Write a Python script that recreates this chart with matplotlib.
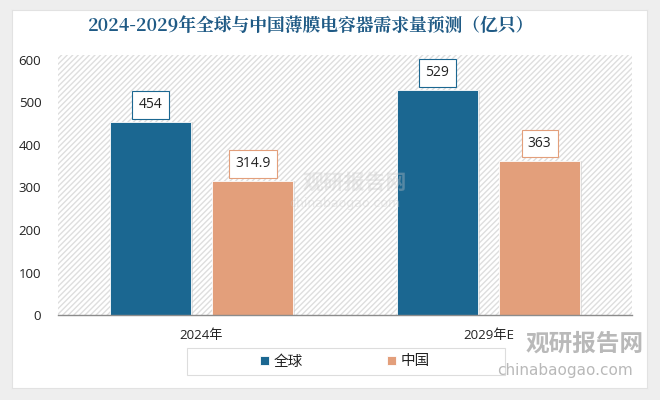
import matplotlib.pyplot as plt
import numpy as np
from matplotlib.patches import Rectangle

plt.rcParams['font.family'] = ['Open Sans', 'Noto Sans CJK SC', 'DejaVu Sans']

title = '2024-2029年全球与中国薄膜电容器需求量预测（亿只）'
categories = ['2024年', '2029年E']
series_names = ['全球', '中国']
global_vals = [454, 529]
china_vals = [314.9, 363]
value_labels = [['454', '529'], ['314.9', '363']]
yticks = [0, 100, 200, 300, 400, 500, 600]

blue = '#1b6791'
orange = '#e39f7b'

fig = plt.figure(figsize=(6.6, 4.0), dpi=100)
fig.patch.set_facecolor('#eeeeee')

# white card behind everything
card_ax = fig.add_axes([0.018, 0.03, 0.962, 0.945], zorder=-5)
card_ax.set_xticks([])
card_ax.set_yticks([])
card_ax.set_facecolor('white')
for s in card_ax.spines.values():
    s.set_color('#e2e2e2')

fig.text(311 / 660, 1 - 27 / 400, title, ha='center', va='center',
         fontsize=12.8, fontweight='bold', color='#1f5a85',
         family=['Noto Serif CJK SC', 'Noto Sans CJK SC', 'DejaVu Sans'])

ax = fig.add_axes([58 / 660, 1 - 315 / 400, 574 / 660, 255 / 400])
ax.set_facecolor('none')

# hatched plot background
bg = Rectangle((0, 0), 1, 1.02, transform=ax.transAxes, facecolor='white',
               edgecolor='#dedede', hatch='//////', linewidth=0, zorder=0,
               clip_on=False)
ax.add_patch(bg)

x = np.arange(len(categories))
w = 0.28
off = 0.178
series = [global_vals, china_vals]
colors = [blue, orange]
for i, (vals, col) in enumerate(zip(series, colors)):
    xs = x + (-off if i == 0 else off)
    # soft shadow
    ax.bar(xs + 0.008, vals, w, color='#cfcfcf', alpha=0.6, zorder=1)
    ax.bar(xs, vals, w, color=col, edgecolor='white', linewidth=0.6,
           zorder=2, label=series_names[i])
    for xi, v, lab in zip(xs, vals, value_labels[i]):
        ax.annotate(lab, (xi, v), xytext=(0, 7), textcoords='offset points',
                    ha='center', va='bottom', fontsize=10, color='#222222',
                    bbox=dict(boxstyle='square,pad=0.45', facecolor='white',
                              edgecolor=col, linewidth=0.8),
                    zorder=4)

ax.set_xlim(-0.5, 1.5)
ax.set_ylim(0, 600)
ax.set_yticks(yticks)
ax.set_yticklabels([str(t) for t in yticks], fontsize=9.5, color='#222222')
ax.set_xticks(x)
ax.set_xticklabels(categories, fontsize=9.5, color='#222222')
ax.tick_params(axis='both', length=0)
ax.tick_params(axis='y', pad=12)
ax.tick_params(axis='x', pad=10)
for s in ['top', 'right', 'left']:
    ax.spines[s].set_visible(False)
ax.spines['bottom'].set_color('#8c8c8c')
ax.spines['bottom'].set_linewidth(1.0)

# legend frame drawn separately (wider than the entries)
fig.patches.append(Rectangle((187 / 660, 1 - 375 / 400), 318 / 660, 27 / 400,
                             transform=fig.transFigure, facecolor='white',
                             edgecolor='#dddddd', linewidth=0.8, zorder=2))
leg = fig.legend(loc='center', bbox_to_anchor=(345 / 660, 1 - 362 / 400),
                 ncol=2, frameon=False, fontsize=10.5, handlelength=0.6,
                 handleheight=0.6, handletextpad=0.3, columnspacing=5.8)
leg.set_zorder(3)
for t in leg.get_texts():
    t.set_color('#222222')

# watermarks
fig.text(585 / 660, 1 - 344 / 400, '观研报告网', ha='center', va='center',
         fontsize=17, fontweight='bold', color='#b9b9b9',
         family=['Noto Sans CJK SC'])
fig.text(565 / 660, 1 - 370 / 400, 'chinabaogao.com', ha='center', va='center',
         fontsize=11, color='#b9b9b9', family=['DejaVu Sans'])
fig.text(355 / 660, 1 - 182 / 400, '观研报告网', ha='center', va='center',
         fontsize=15, fontweight='bold', color='#c8c8c8', alpha=0.35,
         family=['Noto Sans CJK SC'])
fig.text(345 / 660, 1 - 204 / 400, 'chinabaogao.com', ha='center', va='center',
         fontsize=9, color='#c8c8c8', alpha=0.35, family=['DejaVu Sans'])

fig.savefig('out.png', dpi=100, facecolor=fig.get_facecolor())
